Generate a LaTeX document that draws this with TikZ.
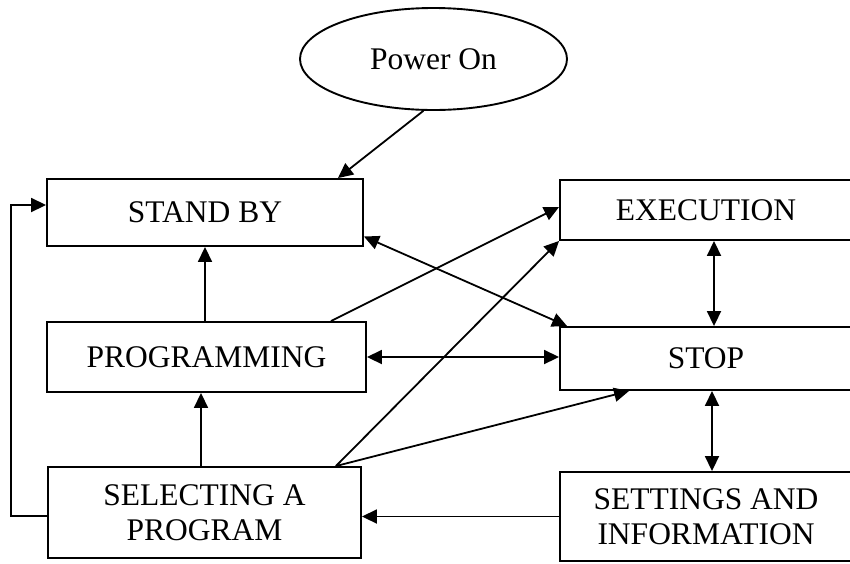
\documentclass[tikz,border=0pt]{standalone}
\usepackage{fontspec}
\setmainfont{Liberation Serif}
\usetikzlibrary{arrows.meta,shapes.geometric}
\begin{document}
\begin{tikzpicture}[x=1pt,y=-1pt,
  every node/.style={font=\fontsize{31.5}{35}\selectfont, align=center, inner sep=0pt},
  box/.style={draw, line width=1.9pt, rectangle},
  conn/.style={line width=1.8pt, -{Triangle[length=15pt,width=14pt]}},
  bconn/.style={line width=1.8pt, {Triangle[length=15pt,width=14pt]}-{Triangle[length=15pt,width=14pt]}},
  plain/.style={line width=1.8pt}]
\useasboundingbox (0,0) rectangle (850,563);
\clip (0,0) rectangle (850,563);
\node[draw, line width=1.9pt, ellipse, minimum width=267pt, minimum height=102pt] (power) at (433.5,59) {Power On};
\node[box, minimum width=316pt, minimum height=67pt] (standby) at (205,212.5) {STAND BY};
\node[box, minimum width=319pt, minimum height=70pt] (programming) at (206.5,357) {PROGRAMMING};
\node[box, minimum width=313pt, minimum height=91pt] (selecting) at (204.5,512.5) {SELECTING A\\PROGRAM};
\node[box, minimum width=292pt, minimum height=60pt] (execution) at (706,210) {EXECUTION};
\node[box, minimum width=292pt, minimum height=63pt] (stop) at (706,358.5) {STOP};
\node[box, minimum width=292pt, minimum height=89pt] (settings) at (706,516.5) {SETTINGS AND\\INFORMATION};

\draw[conn] (power.259) -- ([xshift=-26pt]standby.north east);
\draw[conn] ([yshift=-3.5pt]selecting.west) -- ++(-36,0) |- ([yshift=7.5pt]standby.west);
\draw[conn] (programming.north -| standby.south) -- (standby.south);
\draw[conn] ([xshift=-3.5pt]selecting.north) -- ([xshift=-3.5pt]selecting.north |- programming.south);
\draw[bconn] ([yshift=-24pt]standby.east) -- ([xshift=8pt]stop.north west);
\draw[conn] ([xshift=-36pt]programming.north east) -- ([yshift=3pt]execution.west);
\draw[bconn] (programming.east) -- (stop.west |- programming.east);
\draw[conn] ([xshift=-26pt]selecting.north east) -- (execution.south west);
\draw[conn] ([xshift=-26pt]selecting.north east) -- ([xshift=70pt]stop.south west);
\draw[bconn] ([xshift=8pt]execution.south) -- ([xshift=8pt]stop.north);
\draw[bconn] ([xshift=6pt]stop.south) -- ([xshift=6pt]settings.north);
\draw[conn] (settings.west) -- (selecting.east |- settings.west);
\end{tikzpicture}
\end{document}
